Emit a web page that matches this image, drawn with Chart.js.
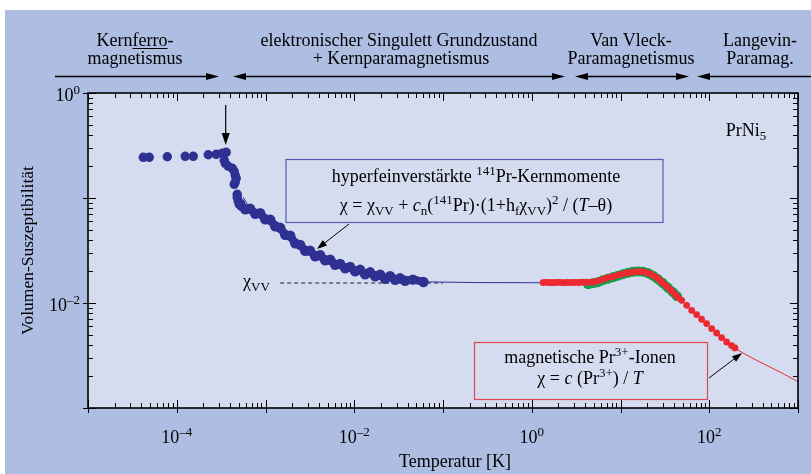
<!DOCTYPE html>
<html><head><meta charset="utf-8">
<script src="https://cdn.jsdelivr.net/npm/chart.js@4.4.1/dist/chart.umd.min.js"></script>
<style>html,body{margin:0;padding:0;background:#fff;}#c{display:block;}</style>
</head><body>
<canvas id="c" width="811" height="474"></canvas>
<script>
// ---------- data ----------
const blueT = [4.195e-5, 4.90e-5, 7.82e-5, 1.246e-4, 1.535e-4, 2.263e-4, 2.79e-4, 3.254e-4, 3.61e-4,
  3.43e-4, 3.52e-4, 3.80e-4, 4.22e-4, 4.44e-4, 4.56e-4, 4.68e-4, 4.56e-4, 4.44e-4, 4.80e-4, 4.80e-4, 4.93e-4, 5.06e-4, 5.32e-4,
  5.19e-4, 5.91e-4, 6.72e-4, 7.66e-4, 8.71e-4, 9.92e-4, 1.13e-3, 1.286e-3, 1.464e-3, 1.667e-3, 1.897e-3, 2.16e-3, 2.459e-3,
  2.80e-3, 3.187e-3, 3.628e-3, 4.13e-3, 4.70e-3, 5.355e-3, 6.09e-3, 6.94e-3, 7.90e-3, 8.99e-3, 1.023e-2, 1.165e-2, 1.326e-2,
  1.51e-2, 1.719e-2, 1.957e-2, 2.228e-2, 2.536e-2, 2.887e-2, 3.287e-2, 3.742e-2, 4.57e-2, 6.02e-2];
const blueChi = [0.244, 0.244, 0.2469, 0.2495, 0.2495, 0.258, 0.2607, 0.2666, 0.2724,
  0.2286, 0.214, 0.2004, 0.1919, 0.1796, 0.1645, 0.154, 0.1412, 0.135, 0.1084, 0.1015, 0.093, 0.0871, 0.0834,
  0.0881, 0.0781, 0.0789, 0.0707, 0.0715, 0.0627, 0.0620, 0.0538, 0.0520, 0.0446, 0.0437, 0.0370, 0.0358,
  0.0314, 0.0314, 0.0279, 0.0285, 0.0255, 0.0258, 0.0231, 0.0236, 0.0214, 0.0221, 0.0200, 0.0207, 0.01876,
  0.0196, 0.01796, 0.01856, 0.0170, 0.01796, 0.01663, 0.01718, 0.01627, 0.0167, 0.01585];

const redT = [1.341, 1.487, 1.650, 1.830, 2.030, 2.252, 2.498, 2.771, 3.074, 3.410, 3.782, 4.196, 4.94, 5.877, 6.99,
  8.30, 9.87, 11.74, 13.94, 16.59, 19.72, 22.46, 25.57, 29.11, 33.14, 37.73, 42.95, 48.89, 55.66, 63.36, 72.13,
  82.11, 93.48, 106.4, 121.1, 137.9, 157.0, 178.7, 194.7];
const redChi = [0.01564, 0.01572, 0.01560, 0.01568, 0.01575, 0.01562, 0.01570, 0.01566, 0.01574, 0.01568, 0.01578, 0.01580,
  0.01585, 0.01645, 0.01730, 0.01796, 0.01864, 0.01931, 0.01973, 0.01991, 0.01948, 0.01864, 0.01745, 0.01585, 0.01442,
  0.01301, 0.01166, 0.01061, 0.00951, 0.00852, 0.00775, 0.00700, 0.00637, 0.00571, 0.00518, 0.00468, 0.00425, 0.00393, 0.00373];

const greenT = [4.305, 4.90, 5.58, 6.35, 7.23, 8.23, 9.37, 10.67, 12.15, 13.83, 15.74, 17.92, 20.40, 23.23, 26.44, 30.10, 34.27, 39.01, 43.3];
const greenChi = [0.01507, 0.01540, 0.01574, 0.01645, 0.0170, 0.01757, 0.01816, 0.01876, 0.01940, 0.01983, 0.0200, 0.01983,
  0.01918, 0.01816, 0.01681, 0.01540, 0.01395, 0.01264, 0.01158];

const blueFitT = [5.61e-4, 7.09e-4, 1.13e-3, 1.897e-3, 3.187e-3, 6.94e-3, 1.957e-2, 6.2e-2, 0.262, 1.34];
const blueFitChi = [0.1016, 0.0731, 0.060, 0.0422, 0.0304, 0.02286, 0.01796, 0.0159, 0.01564, 0.0156];

const redFitT = [82.11, 137.9, 194.7, 221.6, 372.3, 625.5, 1000];
const redFitChi = [0.00700, 0.00468, 0.00373, 0.00347, 0.00274, 0.0022, 0.00178];

const vvT = [1.464e-3, 0.1];
const vvChi = [0.0155, 0.0155];

const xTickLabels = [1e-4, 1e-2, 1e0, 1e2];
const yTickLabels = [1e0, 1e-2];

// ---------- helpers ----------
const zip = (xs, ys) => xs.map((x, i) => ({x: x, y: ys[i]}));
const FF = '"Liberation Serif","Times New Roman",serif';
const PANEL = '#aebde2', PLOT = '#d5dcf0';
const BLUE = '#2e3192', RED = '#ec2830', GREEN = '#12a04c';
const BAND_START = 23;   // index where the dense blue band starts
const RED_BAND_END = 28; // red points forming a continuous band

function fontFor(kind, size) {
  const small = (kind === 'sup' || kind === 'sub');
  const it = (kind === 'i');
  return (it ? 'italic ' : '') + (small ? (size * 0.72).toFixed(1) : size) + 'px ' + FF;
}
function dyFor(kind, size) {
  return kind === 'sup' ? -0.4 * size : kind === 'sub' ? 0.2 * size : 0;
}
function rich(ctx, runs, x, y, size, align) {
  ctx.textAlign = 'left'; ctx.textBaseline = 'alphabetic';
  let w = 0;
  const ws = runs.map(r => { ctx.font = fontFor(r[1], size); const m = ctx.measureText(r[0]).width; w += m; return m; });
  let sx = align === 'center' ? x - w / 2 : align === 'right' ? x - w : x;
  runs.forEach((r, i) => {
    ctx.font = fontFor(r[1], size);
    ctx.fillText(r[0], sx, y + dyFor(r[1], size));
    if (r[2]) ctx.fillRect(sx, y + 2, ws[i], 1);
    sx += ws[i];
  });
}
function arrow(ctx, x1, y1, x2, y2, len, hw, lw) {
  const a = Math.atan2(y2 - y1, x2 - x1);
  ctx.lineWidth = lw;
  ctx.beginPath(); ctx.moveTo(x1, y1);
  ctx.lineTo(x2 - Math.cos(a) * len * 0.8, y2 - Math.sin(a) * len * 0.8); ctx.stroke();
  ctx.beginPath();
  ctx.moveTo(x2, y2);
  ctx.lineTo(x2 - Math.cos(a) * len - Math.sin(a) * hw, y2 - Math.sin(a) * len + Math.cos(a) * hw);
  ctx.lineTo(x2 - Math.cos(a) * len + Math.sin(a) * hw, y2 - Math.sin(a) * len - Math.cos(a) * hw);
  ctx.closePath(); ctx.fill();
}
function expLabel(v) {
  const e = Math.round(Math.log10(v));
  return [['10', 'n'], [e < 0 ? '\u2013' + (-e) : String(e), 'sup']];
}

const deco = {
  id: 'deco',
  beforeDraw(chart) {
    const ctx = chart.ctx, a = chart.chartArea;
    ctx.save();
    ctx.fillStyle = '#fff'; ctx.fillRect(0, 0, chart.width, chart.height);
    ctx.fillStyle = PANEL; ctx.fillRect(5, 10, chart.width - 5, chart.height - 10);
    ctx.fillStyle = PLOT; ctx.fillRect(a.left, a.top, a.right - a.left, a.bottom - a.top);
    ctx.restore();
  },
  afterDraw(chart) {
    const ctx = chart.ctx, a = chart.chartArea, xs = chart.scales.x, ys = chart.scales.y;
    ctx.save();
    ctx.strokeStyle = '#000'; ctx.fillStyle = '#000';
    ctx.lineWidth = 1;
    ctx.beginPath();
    for (let e = -5; e <= 3; e++) {
      for (let m = 1; m <= 9; m++) {
        const v = m * Math.pow(10, e);
        if (v > 1e3 * 1.0001) break;
        const px = Math.round(xs.getPixelForValue(v)) + 0.5;
        const major = m === 1;
        ctx.moveTo(px, a.bottom + (major ? 5 : 0)); ctx.lineTo(px, a.bottom - (major ? 8 : 5));
        ctx.moveTo(px, a.top); ctx.lineTo(px, a.top + (major ? 8 : 5));
      }
    }
    for (let e = -3; e <= 0; e++) {
      for (let m = 1; m <= 9; m++) {
        const v = m * Math.pow(10, e);
        if (v > 1.0001) break;
        const py = Math.round(ys.getPixelForValue(v)) + 0.5;
        const major = m === 1;
        ctx.moveTo(a.left - (major ? 5 : 0), py); ctx.lineTo(a.left + (major ? 8 : 5), py);
        ctx.moveTo(a.right, py); ctx.lineTo(a.right - (major ? 8 : 5), py);
      }
    }
    ctx.stroke();
    ctx.lineWidth = 1.6;
    ctx.strokeRect(a.left, a.top, a.right - a.left, a.bottom - a.top);

    xTickLabels.forEach(v => rich(ctx, expLabel(v), xs.getPixelForValue(v), 443, 18, 'center'));
    yTickLabels.forEach(v => rich(ctx, expLabel(v), 80, ys.getPixelForValue(v) + 8, 18, 'right'));

    rich(ctx, [['Temperatur [K]', 'n']], 455, 467, 18, 'center');
    ctx.save(); ctx.translate(33, (a.top + a.bottom) / 2); ctx.rotate(-Math.PI / 2);
    rich(ctx, [['Volumen-Suszeptibilität', 'n']], 0, 0, 17.5, 'center');
    ctx.restore();

    rich(ctx, [['Kern', 'n'], ['ferro', 'n', true], ['-', 'n']], 135, 46, 18, 'center');
    rich(ctx, [['magnetismus', 'n']], 135, 64, 18, 'center');
    rich(ctx, [['elektronischer Singulett Grundzustand', 'n']], 399, 46, 18, 'center');
    rich(ctx, [['+ Kernparamagnetismus', 'n']], 401, 64, 18, 'center');
    rich(ctx, [['Van Vleck-', 'n']], 631, 46, 18, 'center');
    rich(ctx, [['Paramagnetismus', 'n']], 631, 64, 18, 'center');
    rich(ctx, [['Langevin-', 'n']], 760, 46, 18, 'center');
    rich(ctx, [['Paramag.', 'n']], 760, 64, 18, 'center');

    const ay = 76.5;
    arrow(ctx, 55, ay, 219, ay, 13, 3.6, 1.5);
    arrow(ctx, 400, ay, 233, ay, 13, 3.6, 1.5);
    arrow(ctx, 400, ay, 565, ay, 13, 3.6, 1.5);
    arrow(ctx, 630, ay, 575, ay, 13, 3.6, 1.5);
    arrow(ctx, 630, ay, 689, ay, 13, 3.6, 1.5);
    arrow(ctx, 811, ay, 697, ay, 13, 3.6, 1.5);

    arrow(ctx, 225.7, 105, 225.7, 145, 12, 4, 1.2);
    arrow(ctx, 349, 224, 317, 249, 10, 3.5, 1);
    arrow(ctx, 709, 378, 742, 353, 10, 3.5, 1);

    ctx.fillStyle = PLOT; ctx.fillRect(286, 159.5, 377, 63);
    ctx.strokeStyle = '#555bb0'; ctx.lineWidth = 1.2; ctx.strokeRect(286, 159.5, 377, 63);
    ctx.fillStyle = '#000';
    rich(ctx, [['hyperfeinverstärkte ', 'n'], ['141', 'sup'], ['Pr-Kernmomente', 'n']], 476, 182, 18, 'center');
    rich(ctx, [['\u03c7 = \u03c7', 'n'], ['VV', 'sub'], [' + ', 'n'], ['c', 'i'], ['n', 'sub'], ['(', 'n'], ['141', 'sup'],
      ['Pr)\u00b7(1+h', 'n'], ['f', 'sub'], ['\u03c7', 'n'], ['VV', 'sub'], [')', 'n'], ['2', 'sup'], [' / (', 'n'],
      ['T', 'i'], ['\u2013\u03b8)', 'n']], 476, 211, 18, 'center');

    ctx.fillStyle = PLOT; ctx.fillRect(474.5, 342.5, 233, 57);
    ctx.strokeStyle = '#e2474f'; ctx.lineWidth = 1.2; ctx.strokeRect(474.5, 342.5, 233, 57);
    ctx.fillStyle = '#000';
    rich(ctx, [['magnetische Pr', 'n'], ['3+', 'sup'], ['-Ionen', 'n']], 590, 363, 18, 'center');
    rich(ctx, [['\u03c7 = ', 'n'], ['c', 'i'], [' (Pr', 'n'], ['3+', 'sup'], [') / ', 'n'], ['T', 'i']], 590, 384, 18, 'center');

    rich(ctx, [['PrNi', 'n'], ['5', 'sub']], 746, 136, 18, 'center');
    rich(ctx, [['\u03c7', 'n'], ['VV', 'sub']], 243, 287, 18, 'left');
    ctx.restore();
  }
};

const blueRadius = blueT.map((t, i) => i >= BAND_START ? 5.2 : 4.7);

new Chart(document.getElementById('c'), {
  type: 'scatter',
  data: {
    datasets: [
      {label: 'red', data: zip(redT, redChi), pointRadius: 3.4, pointBackgroundColor: RED, pointBorderWidth: 0, showLine: false},
      {label: 'redBand', data: zip(redT.slice(0, RED_BAND_END), redChi.slice(0, RED_BAND_END)), showLine: true,
        borderColor: RED, borderWidth: 6, borderCapStyle: 'round', borderJoinStyle: 'round', pointRadius: 0, tension: 0.3},
      {label: 'green', data: zip(greenT, greenChi), pointRadius: 5, pointBackgroundColor: GREEN, pointBorderWidth: 0,
        showLine: true, borderColor: GREEN, borderWidth: 9, borderCapStyle: 'round', borderJoinStyle: 'round', tension: 0.3},
      {label: 'blue', data: zip(blueT, blueChi), pointRadius: blueRadius, pointBackgroundColor: BLUE, pointBorderWidth: 0, showLine: false},
      {label: 'blueBand', data: zip(blueT.slice(BAND_START), blueChi.slice(BAND_START)), showLine: true,
        borderColor: BLUE, borderWidth: 8, borderCapStyle: 'round', borderJoinStyle: 'round', pointRadius: 0, tension: 0.3},
      {label: 'redFit', data: zip(redFitT, redFitChi), showLine: true, borderColor: RED, borderWidth: 1, pointRadius: 0, tension: 0.3},
      {label: 'blueFit', data: zip(blueFitT, blueFitChi), showLine: true, borderColor: BLUE, borderWidth: 1, pointRadius: 0},
      {label: 'chiVV', data: zip(vvT, vvChi), showLine: true, borderColor: '#222', borderWidth: 1, borderDash: [4, 3], pointRadius: 0}
    ]
  },
  options: {
    responsive: false, animation: false, devicePixelRatio: 1, events: [],
    layout: {padding: {left: 88, right: 13, top: 93, bottom: 66}},
    plugins: {legend: {display: false}, tooltip: {enabled: false}},
    scales: {
      x: {type: 'logarithmic', min: 1e-5, max: 1e3, display: false},
      y: {type: 'logarithmic', min: 1e-3, max: 1, display: false}
    }
  },
  plugins: [deco]
});
</script>
</body></html>
